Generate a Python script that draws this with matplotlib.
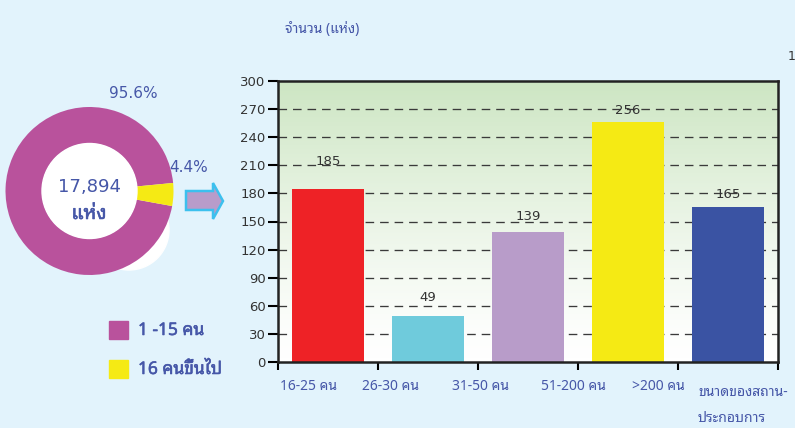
import numpy as np
import matplotlib
matplotlib.use("Agg")
import matplotlib.pyplot as plt
import matplotlib.patheffects as pe
from matplotlib.patches import Circle, Polygon
from matplotlib.colors import LinearSegmentedColormap

# data
size_labels = ["16-25 คน", "26-30 คน", "31-50 คน", "51-200 คน", ">200 คน"]
site_counts = [185, 49, 139, 256, 165]
bar_colors = ["#ee2226", "#6fcbdc", "#b89cc9", "#f5ea14", "#3a53a3"]

share_labels = ["1 -15 คน", "16 คนขึ้นไป"]
share_pct = [95.6, 4.4]
share_colors = ["#b9529c", "#f5ea14"]
total_sites = "17,894"

BG = "#e2f3fc"
BLUE = "#4657a8"
DARK = "#333333"
THAI = ["Noto Sans Thai Looped", "Sarabun", "Noto Sans Thai", "DejaVu Sans"]
plt.rcParams["font.family"] = ["DejaVu Sans"]
# the looped Thai face has no bold file, so thicken it with a stroke
BOLD = [pe.withStroke(linewidth=0.4, foreground=BLUE)]

W, H = 795, 428
fig = plt.figure(figsize=(W / 100, H / 100), dpi=100, facecolor=BG)


def fx(px):
    return px / W


def fy(py):
    return 1 - py / H


# ---- bar chart ----
ax = fig.add_axes([fx(278), fy(362), 500 / W, 281 / H])
x = np.arange(len(site_counts))
ax.set_xlim(-0.5, len(site_counts) - 0.5)
ax.set_ylim(0, 300)

# green -> white background
grad = np.linspace(0, 1, 256) ** 1.3
cmap = LinearSegmentedColormap.from_list("bg", ["#ffffff", "#cde6c3"])
ax.imshow(grad[:, None], origin="lower", cmap=cmap, aspect="auto",
          extent=[-0.5, len(site_counts) - 0.5, 0, 300], zorder=0)

for yv in range(30, 300, 30):
    ax.axhline(yv, color="#3a3a3a", lw=0.95, ls=(0, (6.5, 4.5)), zorder=1)

ax.bar(x, site_counts, width=0.72, color=bar_colors, zorder=2)

label_offsets = [15, 9, 6, 4, 5]
for xi, v, off in zip(x, site_counts, label_offsets):
    ax.annotate(str(v), (xi, v), xytext=(0, off), textcoords="offset points",
                ha="center", va="bottom", fontsize=9.5, color=DARK, zorder=3)

ax.set_yticks(range(0, 301, 30))
ax.set_xticks(np.arange(-0.5, len(site_counts), 1.0))
ax.set_xticklabels([])
ax.tick_params(axis="y", direction="out", length=7, width=1.5, labelsize=9.5,
               labelcolor=DARK, pad=2)
ax.tick_params(axis="x", direction="out", length=6, width=1.5)
for sp in ax.spines.values():
    sp.set_linewidth(1.8)
    sp.set_color("#222222")

# category labels sit a bit left of the bar centres
label_px = [308, 391, 480, 573, 658]
for px, lab in zip(label_px, size_labels):
    fig.text(fx(px), fy(386), lab, ha="center", va="center",
             fontsize=10, color=BLUE, family=THAI)
fig.text(fx(698), fy(393), "ขนาดของสถาน-", ha="left", va="center",
         fontsize=10, color=BLUE, family=THAI)
fig.text(fx(698), fy(418), "ประกอบการ", ha="left", va="center",
         fontsize=10, color=BLUE, family=THAI)
fig.text(fx(285), fy(29), "จำนวน (แห่ง)", ha="left", va="center",
         fontsize=10, color=BLUE, family=THAI)
fig.text(fx(788), fy(57), "1", ha="left", va="center", fontsize=9, color=DARK)

# ---- donut ----
pax = fig.add_axes([fx(0), fy(281), 180 / W, 180 / H])
pax.axis("off")
pax.add_patch(Circle((39.5, -39), 40, color="white", zorder=0))
pax.pie(share_pct, colors=share_colors, radius=84, startangle=5.5,
        counterclock=True, wedgeprops=dict(width=36.5, linewidth=0))
pax.set_xlim(-89.5, 90.5)
pax.set_ylim(-90, 90)
pax.add_patch(Circle((0, 0), 47.5, color="white", zorder=3))

fig.text(fx(89), fy(187), total_sites, ha="center", va="center",
         fontsize=13, color=BLUE)
fig.text(fx(89), fy(214), "แห่ง", ha="center", va="center",
         fontsize=14, color=BLUE, family=THAI, path_effects=BOLD)
fig.text(fx(133), fy(94), f"{share_pct[0]}%", ha="center", va="center",
         fontsize=11, color=BLUE)
fig.text(fx(189), fy(168), f"{share_pct[1]}%", ha="center", va="center",
         fontsize=11, color=BLUE)

# legend squares
for i, (lab, col) in enumerate(zip(share_labels, share_colors)):
    yc = 330 + 39 * i
    fig.patches.append(plt.Rectangle((fx(109), fy(yc + 9)), 19 / W, 18 / H,
                                     transform=fig.transFigure, color=col))
    fig.text(fx(138), fy(yc), lab, ha="left", va="center",
             fontsize=12.5, color=BLUE, family=THAI, path_effects=BOLD)

# arrow between the two charts
arrow_px = [(186, 191), (213, 191), (213, 183), (223, 201),
            (213, 219), (213, 210), (186, 210)]
fig.patches.append(Polygon([(fx(a), fy(b)) for a, b in arrow_px], closed=True,
                           transform=fig.transFigure, facecolor="#b89cca",
                           edgecolor="#3cc0ee", linewidth=1.8))

fig.savefig("out.png", dpi=100, facecolor=BG)
